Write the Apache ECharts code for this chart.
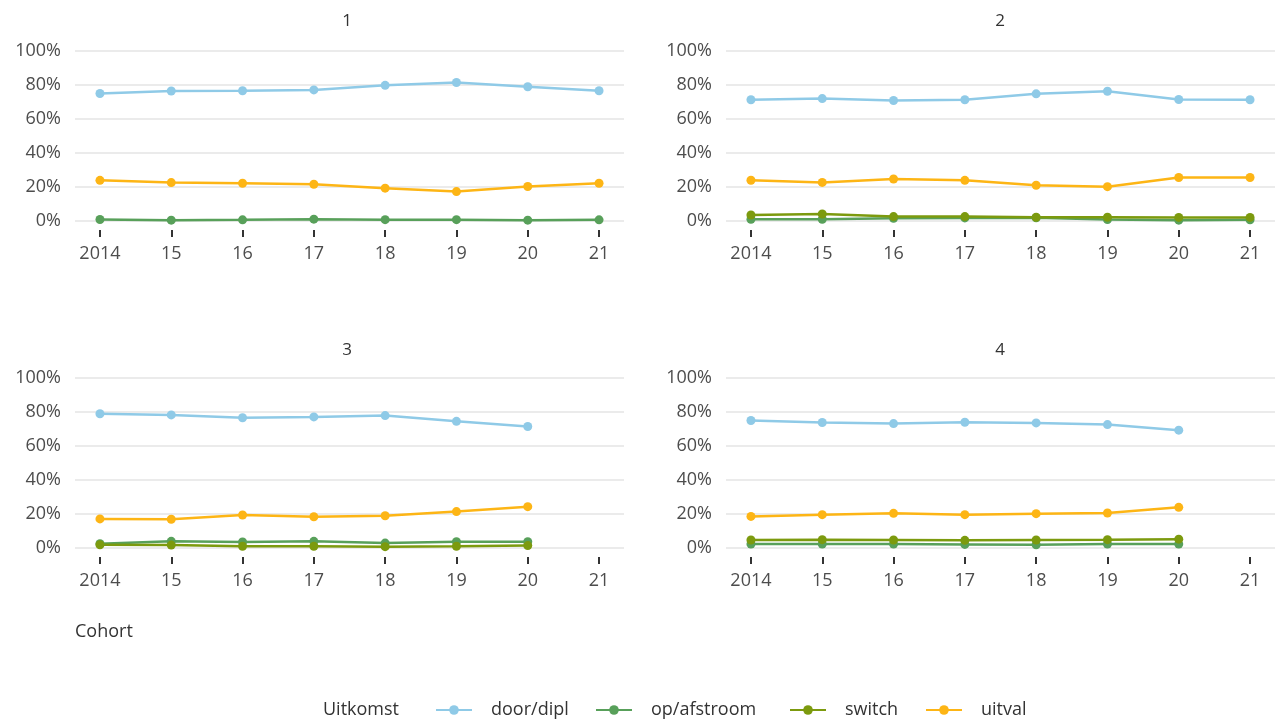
<!DOCTYPE html>
<html><head><meta charset="utf-8">
<script src="https://cdn.jsdelivr.net/npm/echarts@6/dist/echarts.min.js"></script>
<style>html,body{margin:0;padding:0;background:#fff}#c{width:1283px;height:720px}</style>
</head><body><div id="c"></div>
<script>
const years = [2014, 2015, 2016, 2017, 2018, 2019, 2020, 2021];
const yearLabels = ["2014", "15", "16", "17", "18", "19", "20", "21"];
const outcomes = ["door/dipl", "op/afstroom", "switch", "uitval"];
const panelTitles = ["1", "2", "3", "4"];

// panel 1
const p1_door   = [75.0, 76.5, 76.6, 77.1, 79.8, 81.5, 79.0, 76.6];
const p1_op     = [0.9, 0.5, 0.7, 1.1, 0.8, 0.8, 0.5, 0.7];
const p1_switch = [null, null, null, null, null, null, null, null];
const p1_uitval = [23.9, 22.6, 22.2, 21.6, 19.3, 17.3, 20.3, 22.2];
// panel 2
const p2_door   = [71.3, 72.0, 70.9, 71.3, 74.8, 76.3, 71.5, 71.3];
const p2_op     = [1.0, 1.0, 1.6, 1.8, 1.9, 0.9, 0.5, 0.7];
const p2_switch = [3.5, 4.1, 2.6, 2.6, 2.2, 2.2, 2.1, 2.1];
const p2_uitval = [24.0, 22.7, 24.7, 23.9, 21.0, 20.2, 25.6, 25.6];
// panel 3
const p3_door   = [79.0, 78.3, 76.6, 77.1, 77.9, 74.5, 71.5, null];
const p3_op     = [2.5, 3.9, 3.5, 3.9, 2.9, 3.7, 3.7, null];
const p3_switch = [1.9, 1.7, 1.0, 1.0, 0.8, 1.0, 1.4, null];
const p3_uitval = [17.1, 16.9, 19.4, 18.4, 19.0, 21.4, 24.3, null];
// panel 4
const p4_door   = [75.0, 73.8, 73.2, 74.0, 73.6, 72.6, 69.3, null];
const p4_op     = [2.3, 2.3, 2.3, 2.1, 1.9, 2.3, 2.3, null];
const p4_switch = [4.7, 4.9, 4.7, 4.5, 4.7, 4.9, 5.2, null];
const p4_uitval = [18.6, 19.6, 20.4, 19.6, 20.2, 20.6, 23.9, null];

const panels = [
  [p1_door, p1_op, p1_switch, p1_uitval],
  [p2_door, p2_op, p2_switch, p2_uitval],
  [p3_door, p3_op, p3_switch, p3_uitval],
  [p4_door, p4_op, p4_switch, p4_uitval]
];
const colors = {"door/dipl": "#8FCAE7", "op/afstroom": "#58A05A", "switch": "#7C9A0E", "uitval": "#FDB515"};
const fontFam = "'Open Sans', sans-serif";

const gridPos = [
  {left: 75, width: 549, top: 51, height: 170},
  {left: 726, width: 549, top: 51, height: 170},
  {left: 75, width: 549, top: 378, height: 170},
  {left: 726, width: 549, top: 378, height: 170}
];
const titlePos = [[347, 21], [1000, 21], [347, 350], [1000, 350]];
const legendLeft = [430, 590, 784, 920];

const grids = [], xAxes = [], yAxes = [], series = [], graphics = [], legends = [];
gridPos.forEach((g, i) => {
  grids.push(Object.assign({containLabel: false}, g));
  xAxes.push({
    type: 'value', gridIndex: i, min: 2013.65, max: 2021.35, offset: 9, position: 'bottom',
    axisLine: {show: false, onZero: false},
    axisTick: {show: true, length: 7, customValues: years, lineStyle: {color: '#333', width: 2}},
    axisLabel: {customValues: years, margin: 15, color: '#4d4d4d', fontSize: 18, fontFamily: fontFam,
      formatter: v => yearLabels[years.indexOf(Math.round(v))] || ''},
    splitLine: {show: false}
  });
  yAxes.push({
    type: 'value', gridIndex: i, min: 0, max: 100, interval: 20,
    axisLine: {show: false}, axisTick: {show: false},
    axisLabel: {margin: 14, color: '#4d4d4d', fontSize: 18, fontFamily: fontFam, formatter: v => v + '%'},
    splitLine: {show: true, lineStyle: {color: '#ebebeb', width: 2}}
  });
  outcomes.forEach((o, k) => {
    const arr = panels[i][k];
    const data = [];
    years.forEach((y, j) => { if (arr[j] !== null) data.push([y, arr[j]]); });
    series.push({
      type: 'line', name: o, xAxisIndex: i, yAxisIndex: i, data: data,
      symbol: 'circle', symbolSize: 9, clip: false,
      itemStyle: {color: colors[o]}, lineStyle: {color: colors[o], width: 2.5},
      emphasis: {disabled: true}, animation: false
    });
  });
  graphics.push({type: 'text', x: titlePos[i][0], y: titlePos[i][1],
    style: {text: panelTitles[i], fill: '#333', font: '17px ' + fontFam, align: 'center', verticalAlign: 'middle'}});
});
outcomes.forEach((o, k) => {
  legends.push({
    data: [o], left: legendLeft[k], top: 696, itemWidth: 36, itemHeight: 12, itemGap: 0,
    textStyle: {color: '#333', fontSize: 18, fontFamily: fontFam, padding: [0, 0, 0, 14]}
  });
});
graphics.push({type: 'text', x: 75, y: 632, style: {text: 'Cohort', fill: '#333', font: '18px ' + fontFam, verticalAlign: 'middle'}});
graphics.push({type: 'text', x: 323, y: 710, style: {text: 'Uitkomst', fill: '#333', font: '18px ' + fontFam, verticalAlign: 'middle'}});

const chart = echarts.init(document.getElementById('c'), null, {renderer: 'canvas'});
chart.setOption({
  animation: false,
  backgroundColor: '#fff',
  grid: grids, xAxis: xAxes, yAxis: yAxes, series: series,
  legend: legends,
  graphic: graphics
});
</script></body></html>
